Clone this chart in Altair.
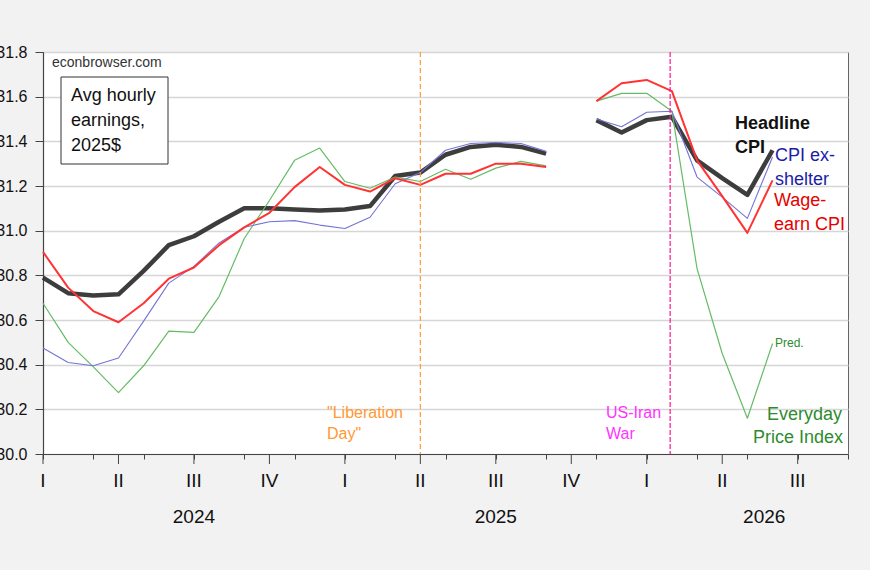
import altair as alt
import pandas as pd

# Monthly observations, 2024-01 .. 2026-06 (Oct 2025 not published)
months = [
    "2024-01", "2024-02", "2024-03", "2024-04", "2024-05", "2024-06",
    "2024-07", "2024-08", "2024-09", "2024-10", "2024-11", "2024-12",
    "2025-01", "2025-02", "2025-03", "2025-04", "2025-05", "2025-06",
    "2025-07", "2025-08", "2025-09", "2025-10", "2025-11", "2025-12",
    "2026-01", "2026-02", "2026-03", "2026-04", "2026-05", "2026-06",
]

# Average hourly earnings deflated to 2025 dollars, by price index
headline_cpi = [
    30.79, 30.72, 30.71, 30.715, 30.82, 30.935,
    30.975, 31.04, 31.10, 31.10, 31.095, 31.09,
    31.095, 31.11, 31.245, 31.26, 31.34, 31.375,
    31.385, 31.375, 31.345, None, 31.495, 31.44,
    31.495, 31.51, 31.315, 31.235, 31.16, 31.36,
]
cpi_ex_shelter = [
    30.475, 30.41, 30.395, 30.43, 30.595, 30.765,
    30.84, 30.945, 31.015, 31.04, 31.045, 31.025,
    31.01, 31.06, 31.21, 31.26, 31.36, 31.39,
    31.395, 31.39, 31.355, None, 31.50, 31.465,
    31.53, 31.535, 31.24, 31.15, 31.055, 31.33,
]
wage_earner_cpi = [
    30.905, 30.745, 30.64, 30.59, 30.675, 30.785,
    30.835, 30.935, 31.015, 31.08, 31.195, 31.285,
    31.205, 31.175, 31.235, 31.205, 31.255, 31.255,
    31.30, 31.30, 31.285, None, 31.58, 31.66,
    31.675, 31.625, 31.315, 31.155, 30.99, 31.225,
]
everyday_price_index = [
    30.675, 30.50, 30.39, 30.275, 30.395, 30.55,
    30.545, 30.705, 30.965, 31.135, 31.315, 31.37,
    31.22, 31.19, 31.24, 31.22, 31.275, 31.23,
    31.28, 31.31, 31.29, None, 31.58, 31.615,
    31.615, 31.535, 30.83, 30.45, 30.16, 30.495,
]

quarter_names = ["I", "II", "III", "IV"]
years = ["2024", "2025", "2026"]
y_ticks = [30.0, 30.2, 30.4, 30.6, 30.8, 31.0, 31.2, 31.4, 31.6, 31.8]

# Event markers (month index from Jan 2024)
liberation_day = 15.0
us_iran_war = 24.93

W, H = 805, 402
LEFT, TOP = 43, 52
FONT = "Liberation Sans"
N_MONTHS = 32  # axis runs Jan 2024 .. Sep 2026


def month_index(m):
    y, mo = m.split("-")
    return (int(y) - 2024) * 12 + int(mo) - 1


rows = []
for name, vals in [
    ("Headline CPI", headline_cpi),
    ("CPI ex-shelter", cpi_ex_shelter),
    ("Wage-earner CPI", wage_earner_cpi),
    ("Everyday Price Index", everyday_price_index),
]:
    seg = 0
    for m, v in zip(months, vals):
        if v is None:
            seg += 1
            continue
        rows.append({"series": name, "idx": month_index(m), "value": v, "seg": seg})
df = pd.DataFrame(rows)

x_scale = alt.Scale(domain=[0, N_MONTHS], nice=False, zero=False)
y_scale = alt.Scale(domain=[30.0, 31.8], nice=False, zero=False)

x_enc = alt.X(
    "idx:Q", scale=x_scale, title=None,
    axis=alt.Axis(values=list(range(N_MONTHS + 1)), labels=False, grid=False, tickSize=5),
)
y_enc = alt.Y(
    "value:Q", scale=y_scale, title=None,
    axis=alt.Axis(
        values=y_ticks, format="$.1f", tickSize=8, labelPadding=8,
        labelFontSize=16, grid=True, gridColor="#d6d6d6", gridWidth=1.5,
    ),
)


def series_line(name, color, width, opacity=1.0):
    return (
        alt.Chart(df)
        .transform_filter(alt.datum.series == name)
        .mark_line(color=color, strokeWidth=width, opacity=opacity, strokeJoin="round")
        .encode(x=x_enc, y=y_enc, detail="seg:N")
    )


def note(text, x, y, color, size=18, align="left", weight="normal"):
    return alt.Chart(pd.DataFrame({"t": [text]})).mark_text(
        align=align, baseline="middle", font=FONT, fontSize=size,
        fontWeight=weight, color=color,
    ).encode(x=alt.value(x - LEFT), y=alt.value(y - TOP), text="t:N")


def event_rule(pos, color, dash):
    return alt.Chart(pd.DataFrame({"idx": [pos]})).mark_rule(
        color=color, strokeDash=dash, strokeWidth=1.2
    ).encode(x=alt.X("idx:Q", scale=x_scale))


quarter_starts = list(range(0, N_MONTHS + 1, 3))
quarter_df = pd.DataFrame({
    "idx": quarter_starts,
    "q": [quarter_names[(i // 3) % 4] for i in quarter_starts],
})

quarter_ticks = alt.Chart(quarter_df).mark_rule(color="#444", strokeWidth=1).encode(
    x=alt.X("idx:Q", scale=x_scale), y=alt.value(H), y2=alt.value(H + 10)
)
quarter_labels = alt.Chart(quarter_df[quarter_df.idx < N_MONTHS]).mark_text(
    font=FONT, fontSize=19, color="#111", baseline="middle"
).encode(x=alt.X("idx:Q", scale=x_scale), y=alt.value(481 - TOP), text="q:N")

year_pos = [6, 18, 28.67]
year_labels = alt.Chart(pd.DataFrame({"idx": year_pos, "year": years})).mark_text(
    font=FONT, fontSize=19, color="#111", baseline="middle"
).encode(x=alt.X("idx:Q", scale=x_scale), y=alt.value(517 - TOP), text="year:N")

box = alt.Chart(pd.DataFrame({"a": [0]})).mark_rect(
    fill="white", stroke="#333", strokeWidth=1
).encode(x=alt.value(61 - LEFT), x2=alt.value(168 - LEFT),
         y=alt.value(77 - TOP), y2=alt.value(164 - TOP))

chart = alt.layer(
    series_line("Headline CPI", "#333333", 4.5, 0.95),
    series_line("Everyday Price Index", "#66bb66", 1.2),
    series_line("CPI ex-shelter", "#7474d6", 1.1),
    series_line("Wage-earner CPI", "#ff3333", 2.0),
    event_rule(liberation_day, "#ff9933", [5, 3]),
    event_rule(us_iran_war, "#ff1493", [5, 2]),
    quarter_ticks,
    quarter_labels,
    year_labels,
    box,
    note("econbrowser.com", 52, 63, "#333", size=14),
    note("Avg hourly", 71, 96, "#111"),
    note("earnings,", 71, 121, "#111"),
    note("2025$", 71, 146, "#111"),
    note("\"Liberation", 327, 413, "#ff9933", size=16),
    note("Day\"", 327, 434, "#ff9933", size=16),
    note("US-Iran", 606, 413, "#ff33ff", size=16),
    note("War", 606, 434, "#ff33ff", size=16),
    note("Headline", 735, 124, "#111", weight="bold"),
    note("CPI", 735, 148, "#111", weight="bold"),
    note("CPI ex-", 775, 156, "#1c1ca6"),
    note("shelter", 775, 180, "#1c1ca6"),
    note("Wage-", 774, 201, "#e60000"),
    note("earn CPI", 774, 225, "#e60000"),
    note("Pred.", 775, 343, "#2e8b2e", size=12),
    note("Everyday", 842, 415, "#2e8b2e", align="right"),
    note("Price Index", 843, 438, "#2e8b2e", align="right"),
).properties(
    width=W, height=H, background="#f2f2f2",
    padding={"left": LEFT, "top": TOP, "right": 870 - LEFT - W, "bottom": 570 - TOP - H},
    autosize=alt.AutoSizeParams(type="none"),
).configure_view(
    stroke="#666", strokeWidth=1, fill="white"
).configure_axis(
    labelFont=FONT, labelColor="#111", domainColor="#444", tickColor="#444",
    domainWidth=1.2,
)

chart.save("out.html", embed_options={"renderer": "svg", "actions": False})
